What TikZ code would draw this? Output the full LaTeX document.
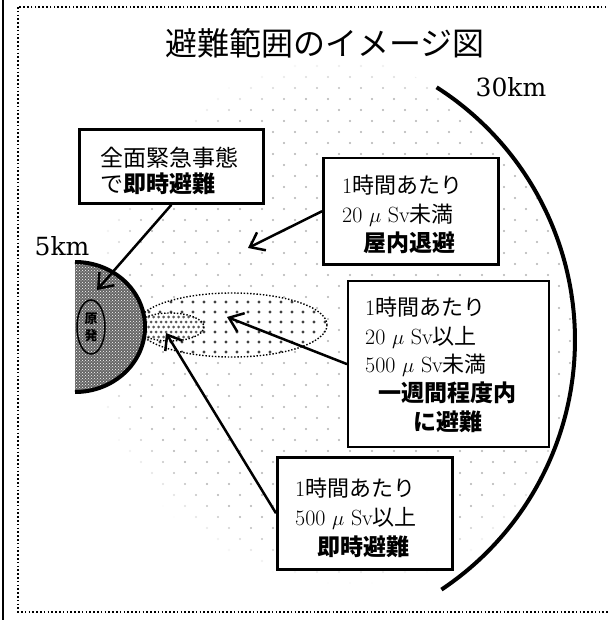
\documentclass[tikz,border=0pt]{standalone}
\usepackage{fontspec}
\newfontfamily\jp{Noto Sans CJK JP}
\newfontfamily\cen{DejaVu Serif}
\usetikzlibrary{arrows.meta,patterns}
\begin{document}
\begin{tikzpicture}[x=1pt,y=-1pt,
  box/.style={draw, line width=2.5pt, fill=white, anchor=north west, inner sep=0pt},
  arr/.style={line width=2.5pt, -{Straight Barb[length=13pt,width=20pt]}},
  ln/.style={anchor=west, inner sep=0pt, font=\fontsize{22}{26}\selectfont},
  bl/.style={inner sep=0pt, font=\fontsize{23}{26}\selectfont\jp\bfseries},
  dotline/.style={line width=1.6pt, dash pattern=on 1.6pt off 2.2pt},
  ell/.style={line width=1.4pt, dash pattern=on 1.4pt off 1.8pt},
]
\useasboundingbox (0,0) rectangle (607,620);
\fill[white] (0,0) rectangle (607,620);

% outer frame
\draw[line width=1.6pt] (3,0) -- (3,620);
\draw[dotline] (18,7) rectangle (640,612);

% title
\node[font=\fontsize{32}{35}\selectfont\jp] (title) at (325,43) {避難範囲のイメージ図};

% background light dots (fading)
\begin{scope}
\clip (275,340) circle[radius=298];
\foreach \i in {0,...,25}{
  \foreach \j in {0,...,48}{
    \pgfmathsetmacro\px{53+22*\i+11*mod(\j,2)}
    \pgfmathsetmacro\py{66+11*\j}
    \pgfmathsetmacro\dd{veclen(\px-350,\py-320)}
    \pgfmathsetmacro\op{max(0,min(1,(265-\dd)/40))}
    \ifdim\op pt>0.02pt
      \fill[black!30, opacity=\op] (\px,\py) circle[radius=1.1];
    \fi
  }
}
\end{scope}

% medium zone ellipse
\fill[white] (232,325) ellipse[x radius=95, y radius=32];
\begin{scope}
\clip (232,325) ellipse[x radius=95, y radius=32];
\foreach \i in {0,...,18}{
  \foreach \j in {0,...,7}{
    \fill[black!75] ({138+11*\i}, {292+10*\j}) circle[radius=1.6];
  }
}
\end{scope}
\draw[ell] (232,325) ellipse[x radius=95, y radius=32];

% small zone ellipse
\fill[white] (170,327) ellipse[x radius=34, y radius=14];
\begin{scope}
\clip (170,327) ellipse[x radius=34, y radius=14];
\foreach \i in {0,...,14}{
  \foreach \j in {0,...,6}{
    \pgfmathsetmacro\qx{136+5*\i+2.5*mod(\j,2)}
    \pgfmathsetmacro\qy{312+5*\j}
    \fill[black!65] (\qx,\qy) circle[radius=1.5];
  }
}
\end{scope}
\draw[ell] (170,327) ellipse[x radius=34, y radius=14];

% plant half disk
\fill[black!60] (75,262) arc[start angle=-90, end angle=90, x radius=70, y radius=65] -- cycle;
\fill[pattern=crosshatch dots, pattern color=white] (75,262) arc[start angle=-90, end angle=90, x radius=70, y radius=65] -- cycle;
\draw[line width=4pt] (75,262) arc[start angle=-90, end angle=90, x radius=70, y radius=65];
\draw[line width=1.5pt] (91,327) ellipse[x radius=14, y radius=27];
\node[font=\fontsize{13}{17}\selectfont\jp\bfseries, align=center, inner sep=0pt] (plant) at (91,327) {原\\発};

% 30 km arc
\draw[line width=4pt] (436.6,87.3) arc[start angle=-57.4, end angle=56.3, radius=300];

% distance labels
\node[font=\fontsize{25}{28}\selectfont\cen] (km5) at (62,246) {5km};
\node[font=\fontsize{25}{28}\selectfont\cen] (km30) at (511,87) {30km};

% boxes
\node[box, line width=2.8pt, minimum width=184pt, minimum height=74pt] (b1) at (78,128) {};
\node[box, minimum width=175pt, minimum height=106pt] (b2) at (322,157) {};
\node[box, line width=2.2pt, minimum width=201pt, minimum height=166pt] (b3) at (347,280) {};
\node[box, minimum width=175pt, minimum height=112pt] (b4) at (276,456) {};

% arrow tips
\coordinate (t1) at (97,290);
\coordinate (t2) at (248,248);
\coordinate (t3) at (227,317);
\coordinate (t4) at (166,333);

\draw[arr] (b1.south) -- (t1);
\draw[arr] (b2.west) -- (t2);
\draw[arr] (b3.west) -- (t3);
\draw[arr] (b4.west) -- (t4);

% box texts
\node[ln, font=\fontsize{23}{26}\selectfont] (b1l1) at (100,158) {\jp 全面緊急事態};
\node[ln, font=\fontsize{23}{26}\selectfont] (b1l2) at (100,184) {\jp で\bfseries 即時避難};

\node[ln] (b2l1) at (342,185) {1\jp 時間あたり};
\node[ln] (b2l2) at (342,215) {20 $\mu$ Sv\jp 未満};
\node[bl] (b2l3) at (409.5,243) {屋内退避};

\node[ln] (b3l1) at (365,307) {1\jp 時間あたり};
\node[ln] (b3l2) at (365,337) {20 $\mu$ Sv\jp 以上};
\node[ln] (b3l3) at (365,365) {500 $\mu$ Sv\jp 未満};
\node[bl] (b3l4) at (447.5,393) {一週間程度内};
\node[bl] (b3l5) at (447.5,422) {に避難};

\node[ln] (b4l1) at (295,488) {1\jp 時間あたり};
\node[ln] (b4l2) at (295,518) {500 $\mu$ Sv\jp 以上};
\node[bl] (b4l3) at (363.5,547) {即時避難};
\end{tikzpicture}
\end{document}
